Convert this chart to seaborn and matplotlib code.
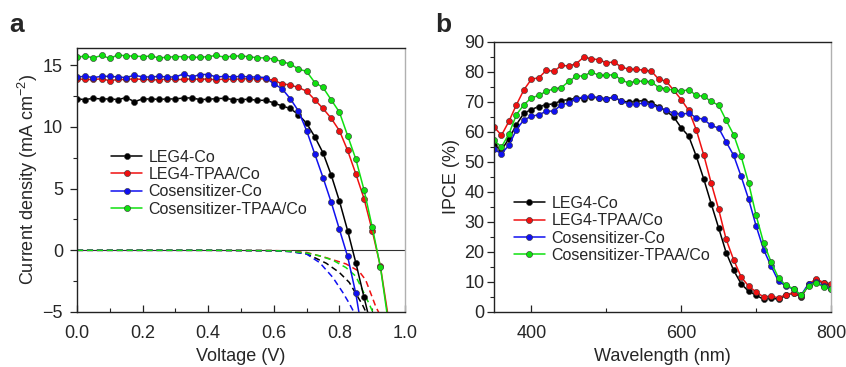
import numpy as np
import pandas as pd
import seaborn as sns
import matplotlib.pyplot as plt
from matplotlib.lines import Line2D
from matplotlib.ticker import MultipleLocator, FormatStrFormatter

# ---- panel a: J-V curves (markers every 0.025 V starting at 0 V) ----
jv_labels = ["LEG4-Co", "LEG4-TPAA/Co", "Cosensitizer-Co", "Cosensitizer-TPAA/Co"]
jv_colors = ["#000000", "#f01010", "#1010f0", "#10e010"]

j_leg4_co = [12.27, 12.22, 12.32, 12.27, 12.27, 12.22, 12.38, 12.05, 12.27, 12.27,
             12.24, 12.27, 12.27, 12.35, 12.35, 12.22, 12.24, 12.30, 12.32, 12.22,
             12.22, 12.24, 12.16, 12.16, 11.95, 11.70, 11.50, 11.00, 10.30, 9.20,
             7.90, 6.10, 4.00, 1.60, -1.00, -3.80, -6.50]
j_leg4_tpaa = [13.90, 13.85, 13.85, 13.90, 13.75, 13.85, 13.85, 13.90, 13.85, 13.85,
               13.80, 13.90, 13.85, 13.85, 13.90, 13.85, 13.90, 13.80, 13.90, 13.85,
               13.90, 13.90, 13.90, 13.90, 13.78, 13.50, 13.40, 13.20, 12.90, 12.20,
               11.50, 10.70, 9.70, 8.10, 6.20, 4.20, 1.60, -1.30, -5.60]
j_cos_co = [14.05, 14.10, 14.00, 14.10, 14.10, 14.05, 14.00, 14.20, 14.05, 14.05,
            14.10, 14.05, 14.05, 14.30, 14.05, 14.25, 14.25, 14.05, 14.10, 14.05,
            14.10, 14.05, 14.05, 14.00, 13.50, 13.10, 12.30, 11.30, 9.70, 7.80,
            5.90, 3.90, 1.70, -0.50, -3.50, -7.50]
j_cos_tpaa = [15.65, 15.75, 15.60, 15.80, 15.55, 15.85, 15.75, 15.75, 15.70, 15.75,
              15.60, 15.65, 15.70, 15.70, 15.65, 15.65, 15.70, 15.80, 15.65, 15.75,
              15.75, 15.70, 15.60, 15.60, 15.50, 15.30, 15.10, 14.70, 14.50, 13.60,
              13.20, 12.20, 11.20, 9.30, 7.40, 4.90, 1.90, -1.35, -6.00]

# dark currents (dashed, no markers)
dark_v_leg4_co = [0.0, 0.2, 0.4, 0.6, 0.65, 0.70, 0.76, 0.80, 0.83, 0.87, 0.89]
dark_j_leg4_co = [0.0, 0.0, 0.0, -0.03, -0.10, -0.28, -1.05, -1.80, -2.60, -4.40, -5.50]
dark_v_leg4_tpaa = [0.0, 0.2, 0.4, 0.6, 0.65, 0.70, 0.76, 0.82, 0.86, 0.88, 0.91, 0.93]
dark_j_leg4_tpaa = [0.0, 0.0, 0.0, -0.02, -0.06, -0.17, -0.60, -1.10, -1.70, -2.40, -4.50, -5.60]
dark_v_cos_co = [0.0, 0.2, 0.4, 0.6, 0.65, 0.70, 0.74, 0.78, 0.81, 0.83, 0.85]
dark_j_cos_co = [0.0, 0.0, 0.0, -0.03, -0.10, -0.30, -1.00, -2.20, -3.40, -4.30, -5.30]
dark_v_cos_tpaa = [0.0, 0.2, 0.4, 0.6, 0.65, 0.70, 0.74, 0.78, 0.82, 0.85, 0.89, 0.91]
dark_j_cos_tpaa = [0.0, 0.0, 0.0, -0.03, -0.08, -0.22, -0.45, -0.80, -1.40, -2.10, -4.30, -5.50]

# ---- panel b: IPCE, 350-800 nm every 10 nm ----
wavelength = list(range(350, 801, 10))
ipce_leg4_co = [55.6, 54.0, 57.8, 62.5, 66.3, 67.5, 68.5, 69.1, 69.4, 70.5,
                70.8, 71.3, 71.1, 71.7, 71.3, 71.0, 71.7, 70.3, 70.0, 70.2,
                70.5, 69.7, 68.5, 67.0, 65.0, 61.4, 58.6, 52.0, 44.4, 36.1,
                28.0, 19.8, 13.9, 9.4, 6.9, 5.6, 4.2, 4.7, 4.2, 5.6,
                6.4, 5.0, 8.9, 10.6, 9.7, 8.9]
ipce_leg4_tpaa = [61.7, 58.9, 63.6, 69.1, 74.1, 77.6, 78.1, 80.6, 80.2, 82.2,
                  82.0, 82.8, 85.0, 84.4, 84.1, 83.1, 83.3, 81.7, 80.9, 80.9,
                  80.6, 80.3, 77.6, 76.9, 73.9, 70.8, 67.2, 60.8, 52.4, 43.0,
                  34.2, 24.2, 17.4, 11.7, 8.6, 6.7, 5.0, 5.3, 4.7, 5.8,
                  6.4, 5.2, 9.2, 11.1, 9.8, 9.4]
ipce_cos_co = [54.2, 52.8, 55.6, 60.8, 64.1, 65.2, 65.8, 66.9, 67.0, 69.1,
               69.7, 71.1, 71.7, 71.9, 71.4, 71.1, 71.7, 70.2, 69.4, 69.2,
               69.7, 69.1, 68.1, 67.2, 66.3, 65.9, 66.3, 64.8, 64.2, 62.2,
               61.3, 56.7, 52.2, 45.2, 37.6, 28.7, 20.8, 15.3, 10.2, 8.7,
               7.6, 5.6, 9.4, 10.0, 8.7, 7.8]
ipce_cos_tpaa = [57.2, 55.0, 59.4, 65.8, 69.1, 71.4, 72.2, 73.6, 74.4, 74.8,
                 76.9, 78.6, 78.7, 80.0, 78.9, 78.9, 79.1, 77.4, 76.3, 77.0,
                 76.9, 76.7, 74.8, 74.4, 73.9, 73.6, 74.1, 72.2, 71.9, 70.2,
                 68.9, 63.9, 59.1, 51.9, 43.0, 32.2, 23.1, 16.7, 11.3, 8.9,
                 7.8, 5.6, 8.7, 9.8, 8.3, 7.6]

sns.set_theme(style="ticks")
plt.rcParams['font.family'] = ['Liberation Sans', 'DejaVu Sans']
plt.rcParams['mathtext.fontset'] = 'custom'
plt.rcParams['mathtext.rm'] = 'Liberation Sans'
plt.rcParams['mathtext.it'] = 'Liberation Sans:italic'
plt.rcParams['axes.unicode_minus'] = True

TICK_FS = 13
LABEL_FS = 13
LEG_FS = 11.5


def style_axes(ax, ypad):
    for side in ["left", "bottom", "top"]:
        ax.spines[side].set_color("#222222")
        ax.spines[side].set_linewidth(1.0)
    ax.spines["right"].set_color("#b0b0b0")
    ax.spines["right"].set_linewidth(1.0)
    ax.tick_params(axis="x", which="both", direction="in", labelsize=TICK_FS,
                   pad=9, color="#222222")
    ax.tick_params(axis="y", which="both", direction="out", labelsize=TICK_FS,
                   pad=ypad, color="#222222")
    ax.tick_params(which="major", length=5, width=0.9)
    ax.tick_params(which="minor", length=3, width=0.8)


def long_form(xs, ys, labels, xname, yname):
    frames = []
    for x, y, lab in zip(xs, ys, labels):
        frames.append(pd.DataFrame({xname: x, yname: y, "series": lab}))
    return pd.concat(frames, ignore_index=True)


fig = plt.figure(figsize=(8.46, 3.67), dpi=100)
W, H = 846, 367
ax_a = fig.add_axes([77 / W, (H - 312) / H, 328 / W, 264 / H])
ax_b = fig.add_axes([494 / W, (H - 312) / H, 337 / W, 270 / H])

# ---- panel a ----
jv_sets = [j_leg4_co, j_leg4_tpaa, j_cos_co, j_cos_tpaa]
jv_v = [np.arange(len(j)) * 0.025 for j in jv_sets]
df_jv = long_form(jv_v, jv_sets, jv_labels, "V", "J")
dark_v = [dark_v_leg4_co, dark_v_leg4_tpaa, dark_v_cos_co, dark_v_cos_tpaa]
dark_j = [dark_j_leg4_co, dark_j_leg4_tpaa, dark_j_cos_co, dark_j_cos_tpaa]
df_dark = long_form(dark_v, dark_j, jv_labels, "V", "J")
palette = dict(zip(jv_labels, jv_colors))

ax_a.axhline(0, color="#333333", lw=0.8, zorder=1)
sns.lineplot(data=df_dark, x="V", y="J", hue="series", palette=palette,
             estimator=None, sort=False, legend=False, ax=ax_a,
             linewidth=1.1, dashes=False, linestyle=(0, (4, 2.5)))
sns.lineplot(data=df_jv, x="V", y="J", hue="series", palette=palette,
             estimator=None, sort=False, legend=False, ax=ax_a,
             linewidth=1.1, marker="o", markersize=4.4,
             markeredgewidth=0.4, markeredgecolor="#333333")

ax_a.set_xlim(0, 1.0)
ax_a.set_ylim(-5, 16.4)
ax_a.xaxis.set_major_locator(MultipleLocator(0.2))
ax_a.xaxis.set_minor_locator(MultipleLocator(0.1))
ax_a.xaxis.set_major_formatter(FormatStrFormatter("%.1f"))
ax_a.yaxis.set_major_locator(MultipleLocator(5))
ax_a.yaxis.set_minor_locator(MultipleLocator(2.5))
ax_a.set_xlabel("Voltage (V)", fontsize=LABEL_FS, labelpad=5)
ax_a.set_ylabel(r"Current density (mA cm$^{-2}$)", fontsize=LABEL_FS, labelpad=2)
style_axes(ax_a, ypad=5)


def make_handles(colors):
    return [Line2D([], [], color=c, lw=1.1, marker="o", markersize=4.4,
                   markeredgewidth=0.4, markeredgecolor="#333333") for c in colors]


ax_a.legend(make_handles(jv_colors), jv_labels, loc="upper left",
            bbox_to_anchor=(0.104, 0.615), frameon=False, fontsize=LEG_FS,
            borderpad=0, borderaxespad=0, handlelength=1.95, handletextpad=0.4,
            labelspacing=0.15)

# ---- panel b ----
ipce_sets = [ipce_leg4_co, ipce_leg4_tpaa, ipce_cos_co, ipce_cos_tpaa]
df_ipce = long_form([wavelength] * 4, ipce_sets, jv_labels, "wl", "ipce")
sns.lineplot(data=df_ipce, x="wl", y="ipce", hue="series", palette=palette,
             estimator=None, sort=False, legend=False, ax=ax_b,
             linewidth=1.1, marker="o", markersize=4.4,
             markeredgewidth=0.4, markeredgecolor="#333333")
ax_b.set_xlim(350, 800)
ax_b.set_ylim(0, 90)
ax_b.xaxis.set_major_locator(MultipleLocator(200))
ax_b.xaxis.set_minor_locator(MultipleLocator(100))
ax_b.yaxis.set_major_locator(MultipleLocator(10))
ax_b.yaxis.set_minor_locator(MultipleLocator(5))
ax_b.set_xlabel("Wavelength (nm)", fontsize=LABEL_FS, labelpad=5)
ax_b.set_ylabel("IPCE (%)", fontsize=LABEL_FS, labelpad=3)
style_axes(ax_b, ypad=2)
ax_b.legend(make_handles(jv_colors), jv_labels, loc="upper left",
            bbox_to_anchor=(0.059, 0.43), frameon=False, fontsize=LEG_FS,
            borderpad=0, borderaxespad=0, handlelength=1.95, handletextpad=0.4,
            labelspacing=0.15)

fig.text(9 / W, 1 - 32 / H, "a", fontsize=19, fontweight="bold", va="baseline")
fig.text(435 / W, 1 - 32 / H, "b", fontsize=19, fontweight="bold", va="baseline")

fig.savefig("out.png", dpi=100)
